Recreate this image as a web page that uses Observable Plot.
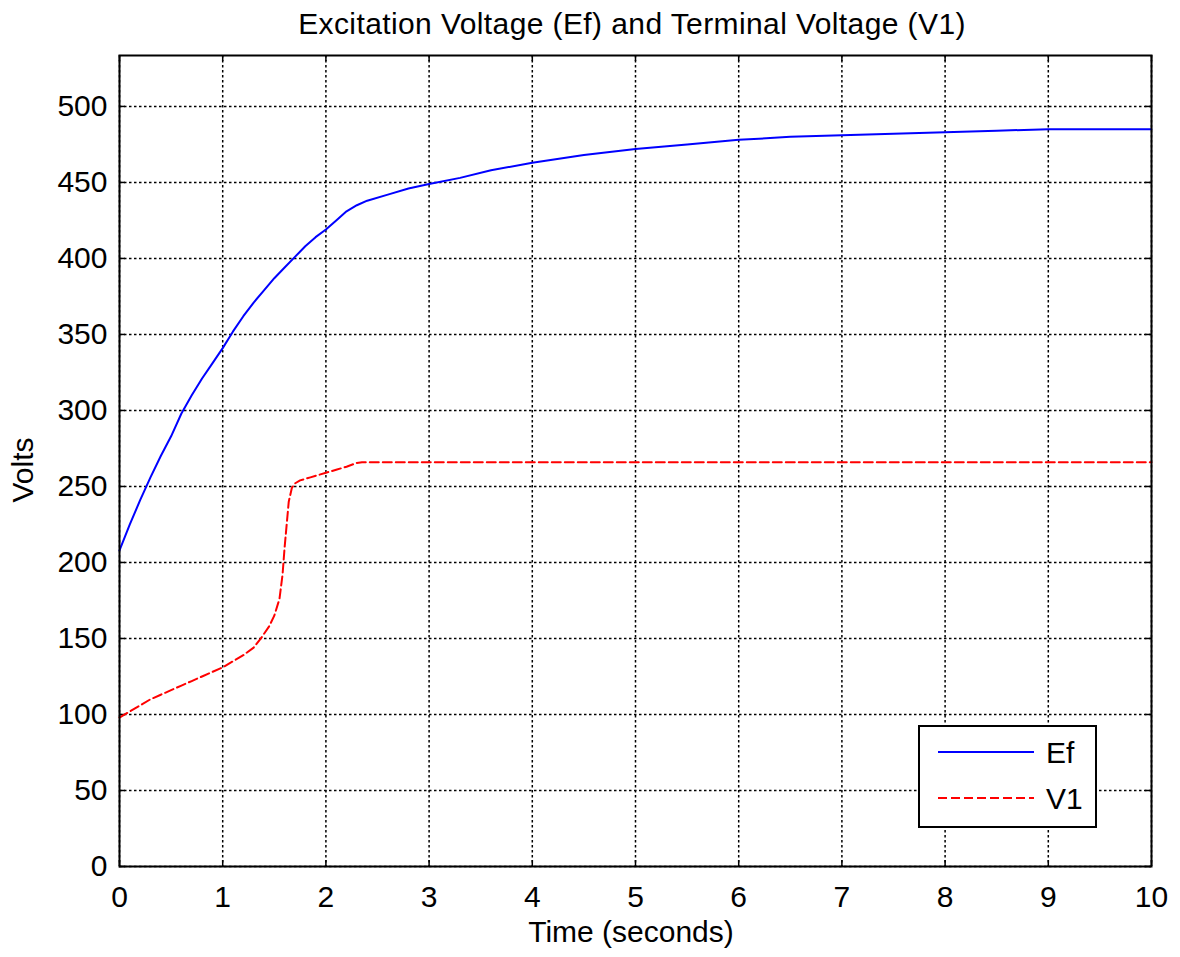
<!DOCTYPE html>
<html><head><meta charset="utf-8">
<script src="https://cdn.jsdelivr.net/npm/d3@7"></script>
<script src="https://cdn.jsdelivr.net/npm/@observablehq/plot@0.6"></script>
<style>html,body{margin:0;padding:0;background:#fff;} svg{display:block}</style>
</head><body><div id="chart"></div>
<script>
// ---- data ----
const xTicks = [0,1,2,3,4,5,6,7,8,9,10];
const yTicks = [0,50,100,150,200,250,300,350,400,450,500];
const efTime  = [0,0.1,0.2,0.3,0.4,0.5,0.6,0.7,0.8,0.9,1.0,1.1,1.2,1.3,1.4,1.5,1.6,1.7,1.8,1.9,2.0,2.1,2.2,2.3,2.4,2.6,2.8,3.0,3.3,3.6,4.0,4.5,5.0,5.5,6.0,6.5,7.0,7.5,8.0,8.5,9.0,10];
const efVolts = [208,225,241,256,270,283,298,310,321,331,341,352,362,371,379,387,394,401,408,414,419,425,431,435,438,442,446,449,453,458,463,468,472,475,478,480,481,482,483,484,485,485];
const v1Time  = [0,0.1,0.2,0.3,0.4,0.5,0.6,0.7,0.8,0.9,1.0,1.1,1.2,1.3,1.37,1.45,1.5,1.55,1.58,1.6,1.62,1.64,1.67,1.7,1.75,1.85,2.0,2.1,2.2,2.3,2.35,10];
const v1Volts = [98,102,106,110,113,116,119,122,125,128,131,135,139,144,150,158,165,176,192,210,225,240,249,252,254,256,259,261,263,265.5,266,266];
const seriesNames = ["Ef","V1"];
const titleText = "Excitation Voltage (Ef) and Terminal Voltage (V1)";
const xLabel = "Time (seconds)";
const yLabel = "Volts";

const efData = efTime.map((t,i)=>({t, v: efVolts[i]}));
const v1Data = v1Time.map((t,i)=>({t, v: v1Volts[i]}));

// ---- layout ----
const W=1180,H=957,mL=119,mR=29,mT=55,mB=91;
const innerW=W-mL-mR, innerH=H-mT-mB;
const tickLen=6;
const font="'Liberation Sans', Arial, Helvetica, sans-serif";
const grid={stroke:"#000",strokeOpacity:1,strokeDasharray:"2.5,2.5",strokeWidth:1.5};

const plot = Plot.plot({
  width:W,height:H,marginLeft:mL,marginRight:mR,marginTop:mT,marginBottom:mB,
  style:{fontFamily:font,fontSize:"30px",color:"#000",background:"#fff",overflow:"visible"},
  x:{domain:[0,10]},
  y:{domain:[0,533.5]},
  marks:[
    Plot.gridX(xTicks,grid),
    Plot.gridY(yTicks,grid),
    Plot.tickX(xTicks,{x:d=>d,insetTop:innerH-tickLen,stroke:"#000",strokeWidth:1.5}),
    Plot.tickX(xTicks,{x:d=>d,insetBottom:innerH-tickLen,stroke:"#000",strokeWidth:1.5}),
    Plot.tickY(yTicks,{y:d=>d,insetRight:innerW-tickLen,stroke:"#000",strokeWidth:1.5}),
    Plot.tickY(yTicks,{y:d=>d,insetLeft:innerW-tickLen,stroke:"#000",strokeWidth:1.5}),
    Plot.line(efData,{x:"t",y:"v",stroke:"#0000ff",strokeWidth:2}),
    Plot.line(v1Data,{x:"t",y:"v",stroke:"#ff0000",strokeWidth:2,strokeDasharray:"9,4"}),
    Plot.frame({stroke:"#000",strokeWidth:2}),
    Plot.axisX(xTicks,{tickSize:0,tickPadding:19,label:null,tickFormat:d=>String(d)}),
    Plot.axisY(yTicks,{tickSize:0,tickPadding:12,label:null,tickFormat:d=>String(d)})
  ]
});
document.getElementById("chart").appendChild(plot);

const svg = d3.select(plot);
svg.append("text").attr("x",632).attr("y",34).attr("text-anchor","middle")
  .attr("font-family",font).attr("font-size","30px").attr("letter-spacing","0.4px").attr("fill","#000").text(titleText);
svg.append("text").attr("x",631).attr("y",942).attr("text-anchor","middle")
  .attr("font-family",font).attr("font-size","30px").attr("fill","#000").text(xLabel);
svg.append("text").attr("transform","translate(33,470) rotate(-90)").attr("text-anchor","middle")
  .attr("font-family",font).attr("font-size","30px").attr("fill","#000").text(yLabel);

// legend
const lg = svg.append("g");
lg.append("rect").attr("x",919).attr("y",726).attr("width",177).attr("height",101)
  .attr("fill","#fff").attr("stroke","#000").attr("stroke-width",2);
const lgStyles=[{stroke:"#0000ff",dash:null,y:752},{stroke:"#ff0000",dash:"9,4",y:798}];
seriesNames.forEach((name,i)=>{
  const s=lgStyles[i];
  lg.append("line").attr("x1",938).attr("x2",1034).attr("y1",s.y).attr("y2",s.y)
    .attr("stroke",s.stroke).attr("stroke-width",2).attr("stroke-dasharray",s.dash);
  lg.append("text").attr("x",1046).attr("y",s.y+11).attr("text-anchor","start").attr("font-family",font)
    .attr("font-size","30px").attr("fill","#000").text(name);
});
</script></body></html>
